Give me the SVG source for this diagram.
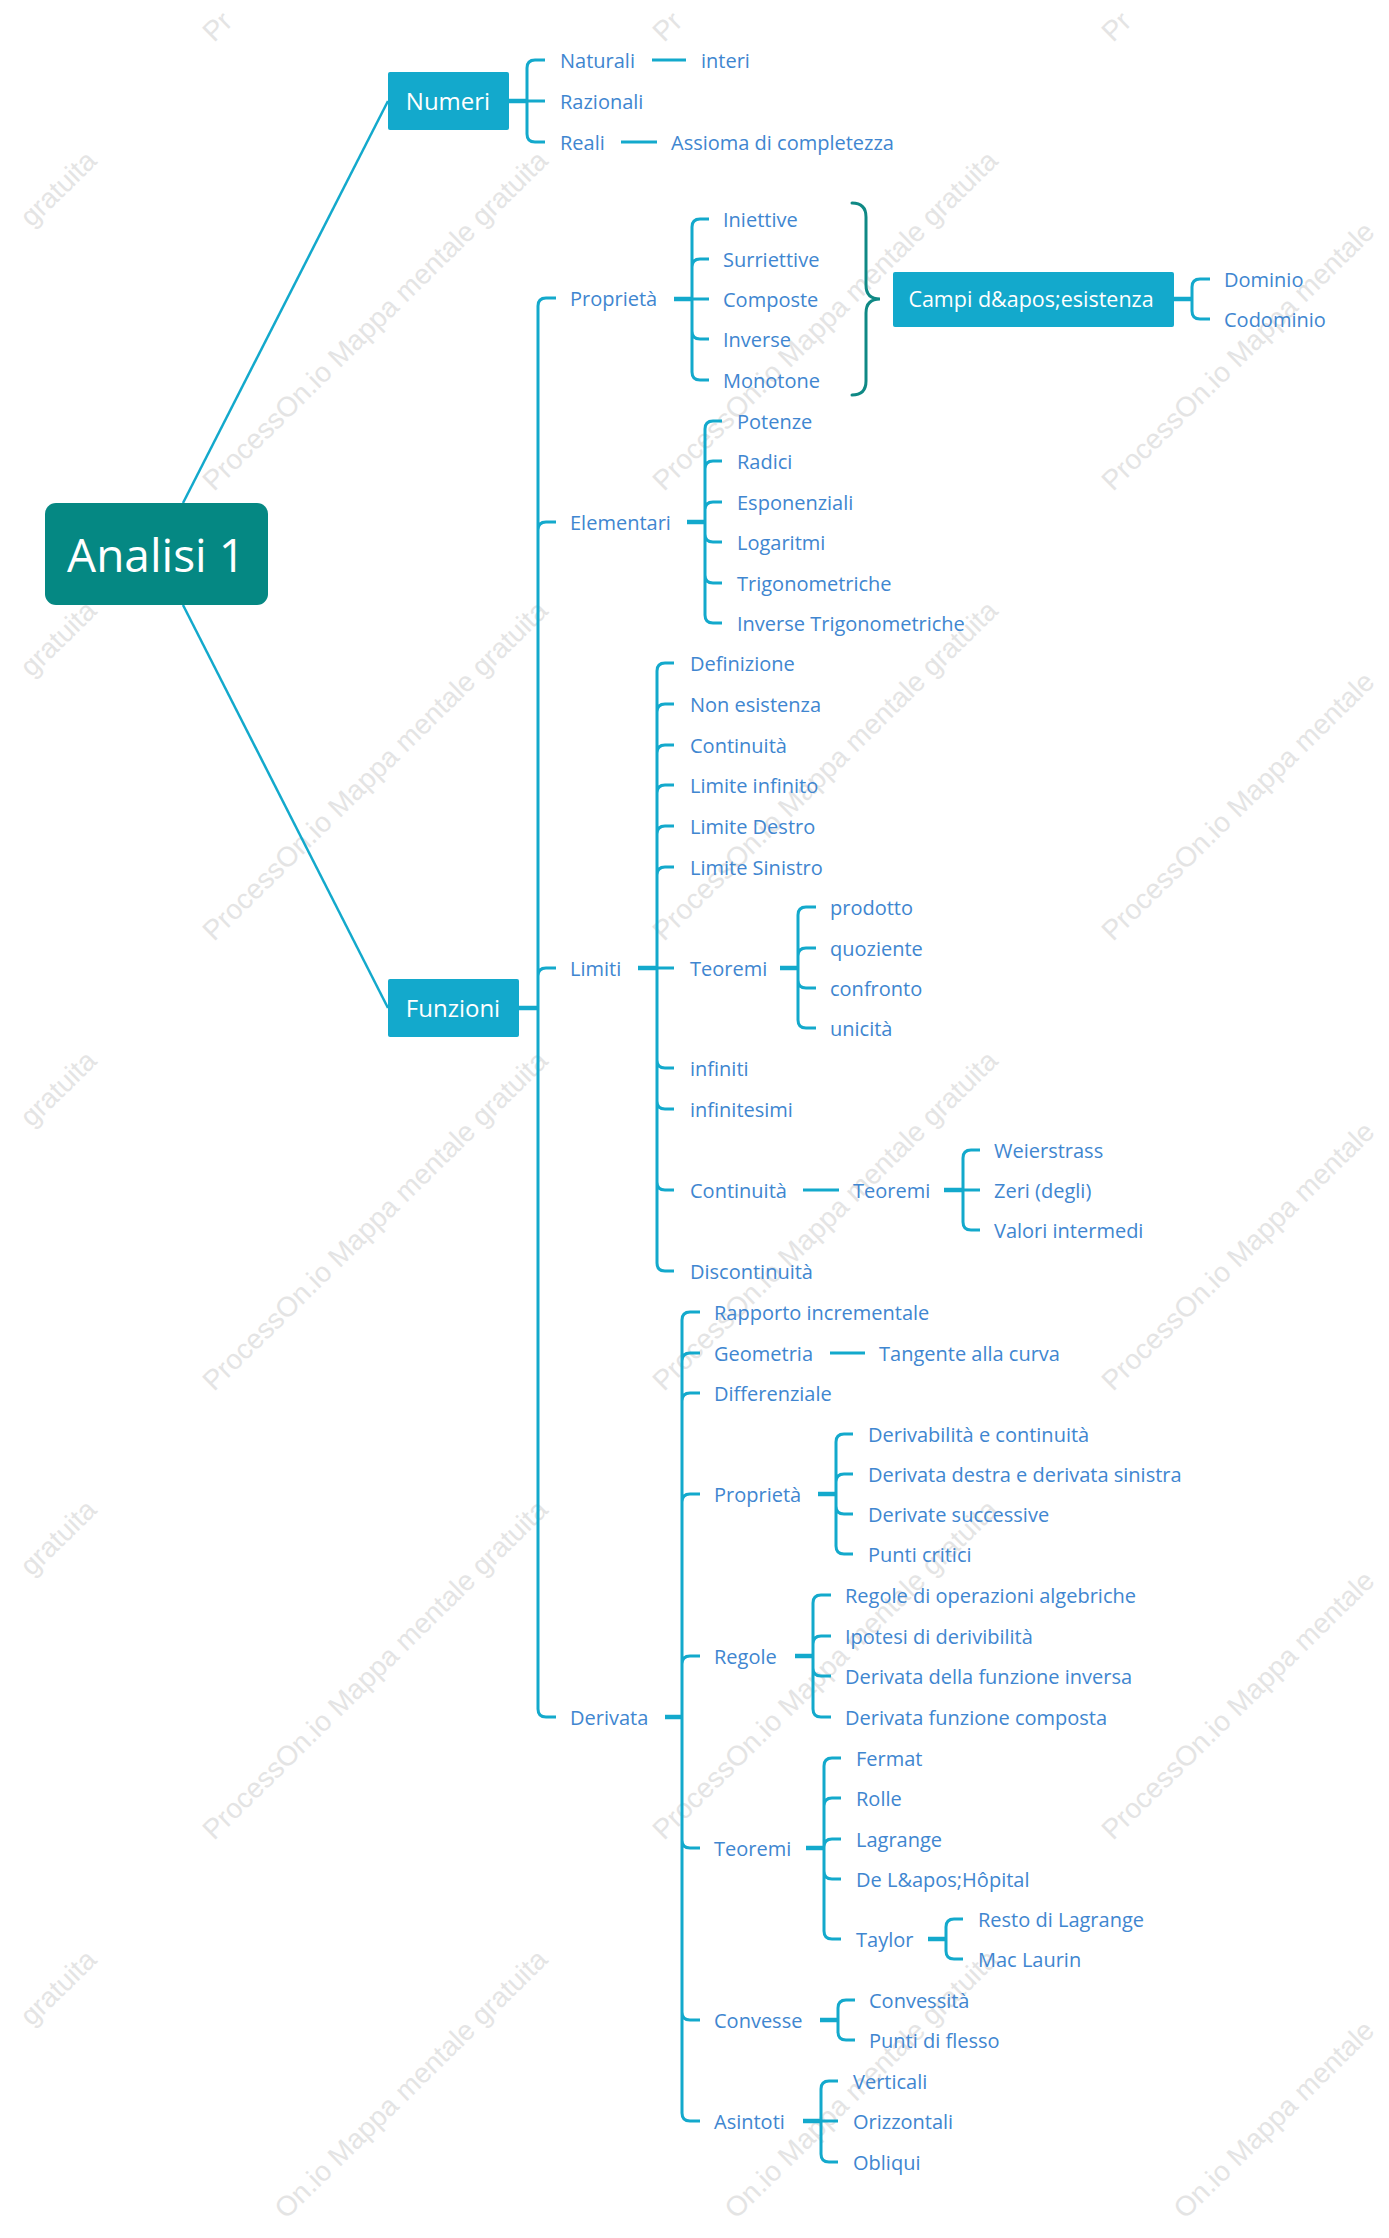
<svg xmlns="http://www.w3.org/2000/svg" width="1389" height="2238" viewBox="0 0 1389 2238">
<style>
.wm{font-family:"Liberation Sans",Arial,sans-serif;font-size:28px;fill:#e4e4e4}
.t{font-family:"Open Sans","Noto Sans",sans-serif;font-size:20px;fill:#4086d0}
.bt{font-family:"Open Sans","Noto Sans",sans-serif;font-size:24px;fill:#ffffff;text-anchor:middle}
.rt{font-family:"Open Sans","Noto Sans",sans-serif;font-size:46px;fill:#ffffff;text-anchor:middle}
.box{fill:#13a9cc}
.br{fill:none;stroke:#13a9cc;stroke-width:3;stroke-linecap:butt}
.st{fill:none;stroke:#13a9cc;stroke-width:4.5}
.main{fill:none;stroke:#13a9cc;stroke-width:2.5}
.brace{fill:none;stroke:#0f8985;stroke-width:3;stroke-linecap:round}
</style>
<rect width="1389" height="2238" fill="#ffffff"/>
<g id="watermarks">
<text class="wm" x="214" y="43" transform="rotate(-44.5 214 43)">Pr</text>
<text class="wm" x="664" y="43" transform="rotate(-44.5 664 43)">Pr</text>
<text class="wm" x="1113" y="43" transform="rotate(-44.5 1113 43)">Pr</text>
<text class="wm" x="31.5" y="228" transform="rotate(-44.5 31.5 228)">gratuita</text>
<text class="wm" x="214" y="492" transform="rotate(-44.5 214 492)">ProcessOn.io Mappa mentale gratuita</text>
<text class="wm" x="664" y="492" transform="rotate(-44.5 664 492)">ProcessOn.io Mappa mentale gratuita</text>
<text class="wm" x="1113" y="492" transform="rotate(-44.5 1113 492)">ProcessOn.io Mappa mentale</text>
<text class="wm" x="31.5" y="678" transform="rotate(-44.5 31.5 678)">gratuita</text>
<text class="wm" x="214" y="942" transform="rotate(-44.5 214 942)">ProcessOn.io Mappa mentale gratuita</text>
<text class="wm" x="664" y="942" transform="rotate(-44.5 664 942)">ProcessOn.io Mappa mentale gratuita</text>
<text class="wm" x="1113" y="942" transform="rotate(-44.5 1113 942)">ProcessOn.io Mappa mentale</text>
<text class="wm" x="31.5" y="1128" transform="rotate(-44.5 31.5 1128)">gratuita</text>
<text class="wm" x="214" y="1392" transform="rotate(-44.5 214 1392)">ProcessOn.io Mappa mentale gratuita</text>
<text class="wm" x="664" y="1392" transform="rotate(-44.5 664 1392)">ProcessOn.io Mappa mentale gratuita</text>
<text class="wm" x="1113" y="1392" transform="rotate(-44.5 1113 1392)">ProcessOn.io Mappa mentale</text>
<text class="wm" x="31.5" y="1577" transform="rotate(-44.5 31.5 1577)">gratuita</text>
<text class="wm" x="214" y="1841" transform="rotate(-44.5 214 1841)">ProcessOn.io Mappa mentale gratuita</text>
<text class="wm" x="664" y="1841" transform="rotate(-44.5 664 1841)">ProcessOn.io Mappa mentale gratuita</text>
<text class="wm" x="1113" y="1841" transform="rotate(-44.5 1113 1841)">ProcessOn.io Mappa mentale</text>
<text class="wm" x="31.5" y="2027" transform="rotate(-44.5 31.5 2027)">gratuita</text>
<text class="wm" x="286" y="2220" transform="rotate(-44.5 286 2220)">On.io Mappa mentale gratuita</text>
<text class="wm" x="736" y="2220" transform="rotate(-44.5 736 2220)">On.io Mappa mentale gratuita</text>
<text class="wm" x="1185" y="2220" transform="rotate(-44.5 1185 2220)">On.io Mappa mentale</text>
</g>
<g id="connectors">
<path class="main" d="M183 503 L388 101"/>
<path class="main" d="M183 605 L388 1008"/>
<path class="st" d="M509 101 H527"/>
<path class="br" d="M545 60 H535 Q527 60 527 68 V134 Q527 142 535 142 H545 M527 101 H545"/>
<path class="br" d="M652 60 H686 M621 142 H657"/>
<path class="st" d="M519 1008 H538"/>
<path class="br" d="M556 298 H546 Q538 298 538 306 V1709 Q538 1717 546 1717 H556 M538 530 Q538 522 546 522 H556 M538 976 Q538 968 546 968 H556"/>
<path class="st" d="M674 299 H692"/>
<path class="br" d="M709 219 H700 Q692 219 692 227 V372 Q692 380 700 380 H709 M692 267 Q692 259 700 259 H709 M692 331 Q692 339 700 339 H709 M692 299 H709"/>
<path class="brace" d="M852 203 Q866 203 866 217 V285 Q866 299 880 299 Q866 299 866 313 V381 Q866 395 852 395"/>
<path class="st" d="M1174 299 H1192"/>
<path class="br" d="M1210 279 H1200 Q1192 279 1192 287 V311 Q1192 319 1200 319 H1210"/>
<path class="st" d="M687 522 H705"/>
<path class="br" d="M722 421 H713 Q705 421 705 429 V615 Q705 623 713 623 H722 M705 469 Q705 461 713 461 H722 M705 510 Q705 502 713 502 H722 M705 534 Q705 542 713 542 H722 M705 575 Q705 583 713 583 H722"/>
<path class="st" d="M638 968 H657"/>
<path class="br" d="M674 663 H665 Q657 663 657 671 V1263 Q657 1271 665 1271 H674 M657 712 Q657 704 665 704 H674 M657 753 Q657 745 665 745 H674 M657 793 Q657 785 665 785 H674 M657 834 Q657 826 665 826 H674 M657 875 Q657 867 665 867 H674 M657 968 H674 M657 1060 Q657 1068 665 1068 H674 M657 1101 Q657 1109 665 1109 H674 M657 1182 Q657 1190 665 1190 H674"/>
<path class="st" d="M780 968 H798"/>
<path class="br" d="M816 907 H806 Q798 907 798 915 V1020 Q798 1028 806 1028 H816 M798 956 Q798 948 806 948 H816 M798 980 Q798 988 806 988 H816"/>
<path class="br" d="M803 1190 H839"/>
<path class="st" d="M944 1190 H963"/>
<path class="br" d="M980 1150 H971 Q963 1150 963 1158 V1222 Q963 1230 971 1230 H980 M963 1190 H980"/>
<path class="st" d="M665 1717 H682"/>
<path class="br" d="M700 1312 H690 Q682 1312 682 1320 V2113 Q682 2121 690 2121 H700 M682 1361 Q682 1353 690 1353 H700 M682 1401 Q682 1393 690 1393 H700 M682 1502 Q682 1494 690 1494 H700 M682 1664 Q682 1656 690 1656 H700 M682 1840 Q682 1848 690 1848 H700 M682 2012 Q682 2020 690 2020 H700"/>
<path class="br" d="M830 1353 H865"/>
<path class="st" d="M818 1494 H836"/>
<path class="br" d="M853 1434 H844 Q836 1434 836 1442 V1546 Q836 1554 844 1554 H853 M836 1482 Q836 1474 844 1474 H853 M836 1506 Q836 1514 844 1514 H853"/>
<path class="st" d="M795 1656 H813"/>
<path class="br" d="M831 1595 H821 Q813 1595 813 1603 V1709 Q813 1717 821 1717 H831 M813 1644 Q813 1636 821 1636 H831 M813 1668 Q813 1676 821 1676 H831"/>
<path class="st" d="M806 1848 H824"/>
<path class="br" d="M841 1758 H832 Q824 1758 824 1766 V1931 Q824 1939 832 1939 H841 M824 1806 Q824 1798 832 1798 H841 M824 1847 Q824 1839 832 1839 H841 M824 1871 Q824 1879 832 1879 H841"/>
<path class="st" d="M928 1939 H946"/>
<path class="br" d="M963 1919 H954 Q946 1919 946 1927 V1951 Q946 1959 954 1959 H963"/>
<path class="st" d="M820 2020 H838"/>
<path class="br" d="M855 2000 H846 Q838 2000 838 2008 V2032 Q838 2040 846 2040 H855"/>
<path class="st" d="M803 2121 H821"/>
<path class="br" d="M838 2081 H829 Q821 2081 821 2089 V2154 Q821 2162 829 2162 H838 M821 2121 H838"/>
</g>
<g id="root"><rect x="45" y="503" width="223" height="102" rx="11" fill="#058883"/><text class="rt" x="156" y="572">Analisi 1</text></g>
<g id="numeri"><rect class="box" x="388" y="72" width="121" height="58" rx="2"/><text class="bt" x="448" y="110">Numeri</text></g>
<g id="naturali"><text class="t" x="560" y="68">Naturali</text></g>
<g id="interi"><text class="t" x="701" y="68">interi</text></g>
<g id="razionali"><text class="t" x="560" y="109">Razionali</text></g>
<g id="reali"><text class="t" x="560" y="150">Reali</text></g>
<g id="assioma"><text class="t" x="671" y="150">Assioma di completezza</text></g>
<g id="funzioni"><rect class="box" x="388" y="979" width="131" height="58" rx="2"/><text class="bt" x="453" y="1017">Funzioni</text></g>
<g id="proprieta"><text class="t" x="570" y="306">Proprietà</text></g>
<g id="iniettive"><text class="t" x="723" y="227">Iniettive</text></g>
<g id="surriettive"><text class="t" x="723" y="267">Surriettive</text></g>
<g id="composte"><text class="t" x="723" y="307">Composte</text></g>
<g id="inverse"><text class="t" x="723" y="347">Inverse</text></g>
<g id="monotone"><text class="t" x="723" y="388">Monotone</text></g>
<g id="campi"><rect class="box" x="893" y="272" width="281" height="55" rx="2"/><text class="bt" x="1031" y="307" style="font-size:21.5px">Campi d&amp;apos;esistenza</text></g>
<g id="dominio"><text class="t" x="1224" y="287">Dominio</text></g>
<g id="codominio"><text class="t" x="1224" y="327">Codominio</text></g>
<g id="elementari"><text class="t" x="570" y="530">Elementari</text></g>
<g id="potenze"><text class="t" x="737" y="429">Potenze</text></g>
<g id="radici"><text class="t" x="737" y="469">Radici</text></g>
<g id="esponenziali"><text class="t" x="737" y="510">Esponenziali</text></g>
<g id="logaritmi"><text class="t" x="737" y="550">Logaritmi</text></g>
<g id="trigonometriche"><text class="t" x="737" y="591">Trigonometriche</text></g>
<g id="inverse-trig"><text class="t" x="737" y="631">Inverse Trigonometriche</text></g>
<g id="limiti"><text class="t" x="570" y="976">Limiti</text></g>
<g id="definizione"><text class="t" x="690" y="671">Definizione</text></g>
<g id="non-esistenza"><text class="t" x="690" y="712">Non esistenza</text></g>
<g id="continuita-l"><text class="t" x="690" y="753">Continuità</text></g>
<g id="limite-infinito"><text class="t" x="690" y="793">Limite infinito</text></g>
<g id="limite-destro"><text class="t" x="690" y="834">Limite Destro</text></g>
<g id="limite-sinistro"><text class="t" x="690" y="875">Limite Sinistro</text></g>
<g id="teoremi-l"><text class="t" x="690" y="976">Teoremi</text></g>
<g id="prodotto"><text class="t" x="830" y="915">prodotto</text></g>
<g id="quoziente"><text class="t" x="830" y="956">quoziente</text></g>
<g id="confronto"><text class="t" x="830" y="996">confronto</text></g>
<g id="unicita"><text class="t" x="830" y="1036">unicità</text></g>
<g id="infiniti"><text class="t" x="690" y="1076">infiniti</text></g>
<g id="infinitesimi"><text class="t" x="690" y="1117">infinitesimi</text></g>
<g id="continuita"><text class="t" x="690" y="1198">Continuità</text></g>
<g id="teoremi-c"><text class="t" x="853" y="1198">Teoremi</text></g>
<g id="weierstrass"><text class="t" x="994" y="1158">Weierstrass</text></g>
<g id="zeri"><text class="t" x="994" y="1198">Zeri (degli)</text></g>
<g id="valori"><text class="t" x="994" y="1238">Valori intermedi</text></g>
<g id="discontinuita"><text class="t" x="690" y="1279">Discontinuità</text></g>
<g id="derivata"><text class="t" x="570" y="1725">Derivata</text></g>
<g id="rapporto"><text class="t" x="714" y="1320">Rapporto incrementale</text></g>
<g id="geometria"><text class="t" x="714" y="1361">Geometria</text></g>
<g id="tangente"><text class="t" x="879" y="1361">Tangente alla curva</text></g>
<g id="differenziale"><text class="t" x="714" y="1401">Differenziale</text></g>
<g id="proprieta-d"><text class="t" x="714" y="1502">Proprietà</text></g>
<g id="derivabilita"><text class="t" x="868" y="1442">Derivabilità e continuità</text></g>
<g id="destra-sinistra"><text class="t" x="868" y="1482">Derivata destra e derivata sinistra</text></g>
<g id="successive"><text class="t" x="868" y="1522">Derivate successive</text></g>
<g id="punti-critici"><text class="t" x="868" y="1562">Punti critici</text></g>
<g id="regole"><text class="t" x="714" y="1664">Regole</text></g>
<g id="operazioni"><text class="t" x="845" y="1603">Regole di operazioni algebriche</text></g>
<g id="ipotesi"><text class="t" x="845" y="1644">Ipotesi di derivibilità</text></g>
<g id="funzione-inversa"><text class="t" x="845" y="1684">Derivata della funzione inversa</text></g>
<g id="funzione-composta"><text class="t" x="845" y="1725">Derivata funzione composta</text></g>
<g id="teoremi-d"><text class="t" x="714" y="1856">Teoremi</text></g>
<g id="fermat"><text class="t" x="856" y="1766">Fermat</text></g>
<g id="rolle"><text class="t" x="856" y="1806">Rolle</text></g>
<g id="lagrange"><text class="t" x="856" y="1847">Lagrange</text></g>
<g id="hopital"><text class="t" x="856" y="1887">De L&amp;apos;Hôpital</text></g>
<g id="taylor"><text class="t" x="856" y="1947">Taylor</text></g>
<g id="resto"><text class="t" x="978" y="1927">Resto di Lagrange</text></g>
<g id="mac-laurin"><text class="t" x="978" y="1967">Mac Laurin</text></g>
<g id="convesse"><text class="t" x="714" y="2028">Convesse</text></g>
<g id="convessita"><text class="t" x="869" y="2008">Convessità</text></g>
<g id="flesso"><text class="t" x="869" y="2048">Punti di flesso</text></g>
<g id="asintoti"><text class="t" x="714" y="2129">Asintoti</text></g>
<g id="verticali"><text class="t" x="853" y="2089">Verticali</text></g>
<g id="orizzontali"><text class="t" x="853" y="2129">Orizzontali</text></g>
<g id="obliqui"><text class="t" x="853" y="2170">Obliqui</text></g>
</svg>
